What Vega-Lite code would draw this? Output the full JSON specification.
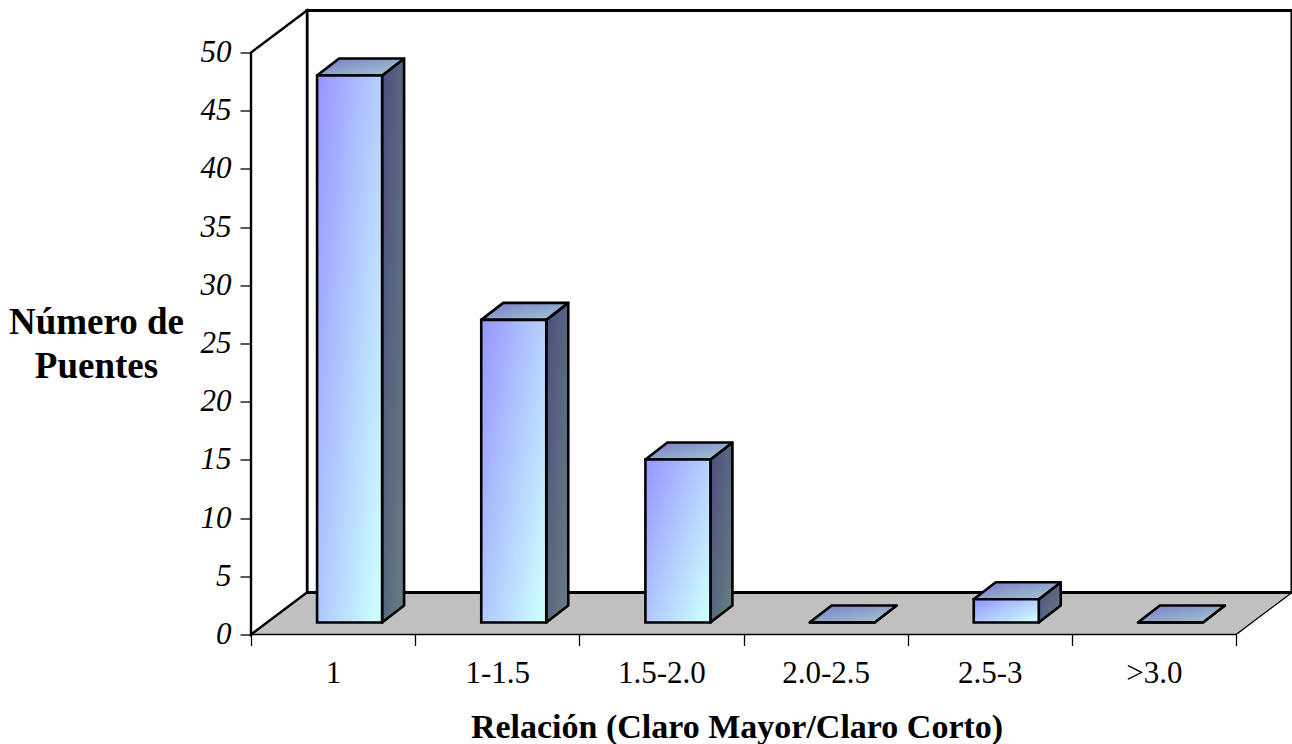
{
"$schema":"https://vega.github.io/schema/vega-lite/v6.json",
"width":985,"height":582,
"padding":{"left":251,"top":52.5,"right":56,"bottom":109.5},
"autosize":"none",
"background":"white",
"config":{"view":{"stroke":null},"font":"Liberation Serif"},
"datasets":{
"bars":[
{"categoria":"1","i":0,"puentes":47},
{"categoria":"1-1.5","i":1,"puentes":26},
{"categoria":"1.5-2.0","i":2,"puentes":14},
{"categoria":"2.0-2.5","i":3,"puentes":0},
{"categoria":"2.5-3","i":4,"puentes":2},
{"categoria":">3.0","i":5,"puentes":0}
],
"frame":[{"t":0},{"t":1}]
},
"layer":[
{"data":{"name":"frame"},
 "transform":[{"calculate":"datum.t*0.341","as":"x"},{"calculate":"6+datum.t*0.341","as":"x2"},{"calculate":"datum.t*3.608","as":"y"}],
 "mark":{"type":"area","orient":"horizontal","color":"#c0c0c0","stroke":"#000","strokeWidth":1.3,"clip":false},
 "encoding":{"y":{"field":"y","type":"quantitative","scale":{"domain":[0,50],"nice":false},"axis":null},
  "x":{"field":"x","type":"quantitative","scale":{"domain":[0,6],"nice":false,"zero":false},"axis":null},"x2":{"field":"x2"}}},
{"data":{"name":"frame"},
 "transform":[{"filter":"datum.t==0"},{"calculate":"0.341","as":"x"},{"calculate":"6.341","as":"x2"},{"calculate":"3.608","as":"y"},{"calculate":"53.608","as":"y2"}],
 "mark":{"type":"rect","color":"#ffffff","stroke":"#000","strokeWidth":3,"clip":false},
 "encoding":{"x":{"field":"x","type":"quantitative","scale":{"domain":[0,6],"nice":false,"zero":false},"axis":null},"x2":{"field":"x2"},
  "y":{"field":"y","type":"quantitative","scale":{"domain":[0,50],"nice":false},"axis":null},"y2":{"field":"y2"}}},
{"data":{"name":"frame"},
 "transform":[{"calculate":"datum.t*0.341","as":"x"},{"calculate":"datum.t*3.608","as":"y"},{"calculate":"50+datum.t*3.608","as":"y2"}],
 "mark":{"type":"area","orient":"vertical","color":"#ffffff","stroke":"#000","strokeWidth":2.4,"clip":false},
 "encoding":{"x":{"field":"x","type":"quantitative","scale":{"domain":[0,6],"nice":false,"zero":false},"axis":null},
  "y":{"field":"y","type":"quantitative","scale":{"domain":[0,50],"nice":false},"axis":null},"y2":{"field":"y2"}}},
{"data":{"name":"bars"},
 "transform":[{"calculate":"[0,1]","as":"t"},{"flatten":["t"]},{"calculate":"datum.i+0.7985+datum.t*0.134","as":"x"},{"calculate":"1.03+datum.t*1.46","as":"y"},{"calculate":"1.03+datum.puentes+datum.t*1.46","as":"y2"}],
 "mark":{"type":"area","orient":"vertical","stroke":"#000","strokeWidth":2.6,"strokeJoin":"round","clip":false,
  "color":{"x1":0,"y1":0,"x2":1,"y2":1,"gradient":"linear","stops":[{"offset":0,"color":"#4d4d80"},{"offset":1,"color":"#668080"}]}},
 "encoding":{"detail":{"field":"categoria"},"x":{"field":"x","type":"quantitative","scale":{"domain":[0,6],"nice":false,"zero":false},"axis":null},
  "y":{"field":"y","type":"quantitative","scale":{"domain":[0,50],"nice":false},"axis":null},"y2":{"field":"y2"}}},
{"data":{"name":"bars"},
 "transform":[{"calculate":"[0,1]","as":"t"},{"flatten":["t"]},{"calculate":"datum.i+0.4025+datum.t*0.134","as":"x"},{"calculate":"datum.i+0.7985+datum.t*0.134","as":"x2"},{"calculate":"1.03+datum.puentes+datum.t*1.46","as":"y"}],
 "mark":{"type":"area","orient":"horizontal","stroke":"#000","strokeWidth":2.6,"strokeJoin":"round","clip":false,
  "color":{"x1":0,"y1":0,"x2":1,"y2":1,"gradient":"linear","stops":[{"offset":0,"color":"#7a7acc"},{"offset":1,"color":"#a3cccc"}]}},
 "encoding":{"detail":{"field":"categoria"},"y":{"field":"y","type":"quantitative","scale":{"domain":[0,50],"nice":false},"axis":null},
  "x":{"field":"x","type":"quantitative","scale":{"domain":[0,6],"nice":false,"zero":false},"axis":null},"x2":{"field":"x2"}}},
{"data":{"name":"bars"},
 "transform":[{"calculate":"datum.i+0.4025","as":"x"},{"calculate":"datum.i+0.7985","as":"x2"},{"calculate":"1.03","as":"y"},{"calculate":"1.03+datum.puentes","as":"y2"}],
 "mark":{"type":"rect","stroke":"#000","strokeWidth":2.6,"clip":false,
  "color":{"x1":0,"y1":0.1,"x2":1,"y2":0.9,"gradient":"linear","stops":[{"offset":0,"color":"#9999ff"},{"offset":1,"color":"#ccffff"}]}},
 "encoding":{"x":{"field":"x","type":"quantitative","scale":{"domain":[0,6],"nice":false,"zero":false},"axis":null},"x2":{"field":"x2"},
  "y":{"field":"y","type":"quantitative","scale":{"domain":[0,50],"nice":false},"axis":null},"y2":{"field":"y2"}}},
{"data":{"name":"bars"},
 "mark":{"type":"point","opacity":0},
 "encoding":{
  "x":{"field":"categoria","type":"nominal","sort":null,"scale":{"type":"band","paddingInner":0,"paddingOuter":0},
   "axis":{"orient":"bottom","title":"Relación (Claro Mayor/Claro Corto)","titleFont":"Liberation Serif","titleFontSize":34,"titleFontWeight":"bold","titleColor":"#000","titlePadding":22,"titleX":485.5,
    "labelFont":"Liberation Serif","labelFontSize":31,"labelColor":"#000","labelAngle":0,"labelPadding":13,"tickBand":"extent","tickColor":"#000","tickSize":11,"tickWidth":1.3,"domain":false,"grid":false}},
  "y":{"field":"puentes","type":"quantitative","scale":{"domain":[0,50],"nice":false},
   "axis":{"orient":"left","values":[0,5,10,15,20,25,30,35,40,45,50],"title":["Número de","Puentes"],"titleFont":"Liberation Serif","titleFontSize":37,"titleFontWeight":"bold","titleColor":"#000","titleAngle":0,"titleAlign":"center","titleBaseline":"middle","titleX":-155,"titleY":270,"titleLineHeight":44,
    "labelFont":"Liberation Serif","labelFontSize":31,"labelFontStyle":"italic","labelColor":"#000","labelPadding":9,"tickColor":"#000","tickSize":11,"tickWidth":1.3,"domain":false,"grid":false}}}}
],
"resolve":{"scale":{"x":"independent","y":"independent"},"axis":{"x":"independent","y":"independent"}}
}
